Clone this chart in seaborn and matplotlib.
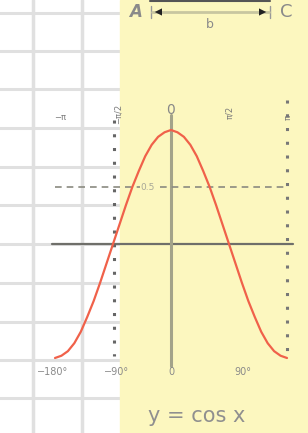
import matplotlib
matplotlib.use("Agg")
import matplotlib.pyplot as plt
import seaborn as sns
import pandas as pd
from matplotlib.patches import Rectangle, FancyArrowPatch

# ---- data ----
angles_deg = [-180, -170, -160, -150, -140, -130, -120, -110, -100, -90,
              -80, -70, -60, -50, -40, -30, -20, -10, 0,
              10, 20, 30, 40, 50, 60, 70, 80, 90,
              100, 110, 120, 130, 140, 150, 160, 170, 180]
cos_vals = [-1.0, -0.98, -0.94, -0.87, -0.77, -0.64, -0.5, -0.34, -0.17, 0.0,
            0.17, 0.34, 0.5, 0.64, 0.77, 0.87, 0.94, 0.98, 1.0,
            0.98, 0.94, 0.87, 0.77, 0.64, 0.5, 0.34, 0.17, 0.0,
            -0.17, -0.34, -0.5, -0.64, -0.77, -0.87, -0.94, -0.98, -1.0]
bottom_ticks = [-180, -90, 0, 90]
bottom_labels = ["−180°", "−90°", "0", "90°"]
top_ticks = [-180, -90, 0, 90, 180]
top_labels = ["−π", "−π/2", "0", "π/2", "π"]
half_level = 0.5
title_text = "y = cos x"

sns.set_theme(style="white")
plt.rcParams['font.family'] = ['DejaVu Sans']

W, H = 308, 433
fig = plt.figure(figsize=(W / 100, H / 100), dpi=100)

# background "paper" axes in pixel units
bg = fig.add_axes([0, 0, 1, 1])
bg.set_xlim(0, W)
bg.set_ylim(H, 0)
bg.axis("off")
grid_col = "#e0e0e0"
for gx in [33, 82]:
    bg.plot([gx, gx], [0, H], color=grid_col, lw=2.5, zorder=1)
for gy in [13, 51, 89, 128, 167, 205, 244, 283, 322, 360, 398]:
    bg.plot([0, 121], [gy, gy], color=grid_col, lw=2.2, zorder=1)
bg.add_patch(Rectangle((120, 0), W - 120, H, color="#fcf7bf", zorder=2))

# main axes: pixel -> data mapping (0 deg at x=171, 180 deg = 116 px; y=0 at 244, 1 unit=114 px)
ax = fig.add_axes([0, 0, 1, 1])
ax.patch.set_alpha(0)
x0px, sx = 171, 116 / 180
y0px, sy = 244, 114


def px2x(p):
    return (p - x0px) / sx


def px2y(p):
    return (y0px - p) / sy


# axes lines
ax.plot([px2x(52), px2x(293)], [0, 0], color="#6f6f6a", lw=1.6, zorder=3)
ax.plot([0, 0], [px2y(115), px2y(366)], color="#a3a38a", lw=2.2, zorder=3)

# dotted verticals
ax.plot([px2x(114), px2x(114)], [px2y(120), px2y(356)], color="#666666", lw=2.2,
        linestyle=(0, (1, 3.5)), zorder=3)
ax.plot([180, 180], [px2y(100), px2y(356)], color="#777777", lw=2.2,
        linestyle=(0, (1, 3.5)), zorder=3)

# dashed half line
ax.plot([-180, 180], [half_level, half_level], color="#8a8a80", lw=1.2,
        linestyle=(0, (4, 3)), zorder=3)
ax.text(px2x(148), half_level, "0.5", color="#a8a898", fontsize=6.5,
        ha="center", va="center", zorder=4,
        bbox=dict(facecolor="#fcf7bf", edgecolor="none", pad=0.3))

# the cosine curve
df = pd.DataFrame({"deg": angles_deg, "val": cos_vals})
sns.lineplot(data=df, x="deg", y="val", ax=ax, color="#f0614a", lw=1.6,
             zorder=5, legend=False)
ax.set_xlim((0 - x0px) / sx, (W - x0px) / sx)
ax.set_ylim(-(H - y0px) / sy, y0px / sy)
ax.axis("off")

# bottom labels
bottom_off = {-180: -2, -90: 4, 0: 0, 90: 14}
for t, lab in zip(bottom_ticks, bottom_labels):
    ax.text(px2x(x0px + t * sx + bottom_off[t]), px2y(372), lab, color="#8a8a8a",
            fontsize=7, ha="center", va="center", zorder=4)

# top labels
lab_col = "#7a7a7a"
ax.text(px2x(60), px2y(117), top_labels[0], color=lab_col, fontsize=6,
        ha="center", va="center")
ax.text(px2x(118), px2y(114), top_labels[1], color=lab_col, fontsize=6,
        ha="center", va="center", rotation=90)
ax.text(0, px2y(110), top_labels[2], color="#888888", fontsize=10,
        ha="center", va="center")
ax.text(px2x(230), px2y(112), top_labels[3], color=lab_col, fontsize=6,
        ha="center", va="center", rotation=90)
ax.text(px2x(288), px2y(118), top_labels[4], color=lab_col, fontsize=6,
        ha="center", va="center", rotation=90)

# A --- b --- C arrow at the top (pixel coordinates on background)
bg.plot([150, 270], [1, 1], color="#555555", lw=1.5, zorder=3)
bg.text(136, 12, "A", color="#8a8a8a", fontsize=12, ha="center", va="center",
        zorder=4, style="italic", weight="bold")
bg.text(286, 12, "C", color="#8a8a8a", fontsize=13, ha="center", va="center",
        zorder=4)
bg.plot([151, 151], [6, 18], color="#999999", lw=1, zorder=3)
bg.plot([270, 270], [6, 18], color="#999999", lw=1, zorder=3)
bg.plot([152, 269], [12, 12], color="#c8c6a0", lw=2, zorder=3)
arr = FancyArrowPatch((152, 12), (269, 12), arrowstyle="<|-|>", mutation_scale=13,
                      color="#222222", lw=0, zorder=4)
bg.add_patch(arr)
bg.text(210, 24, "b", color="#8a8a8a", fontsize=9, ha="center", va="center", zorder=4)

# formula
bg.text(197, 416, title_text, color="#8f8f8f", fontsize=15, ha="center", va="center",
        zorder=4)

fig.savefig("out.png", dpi=100)
